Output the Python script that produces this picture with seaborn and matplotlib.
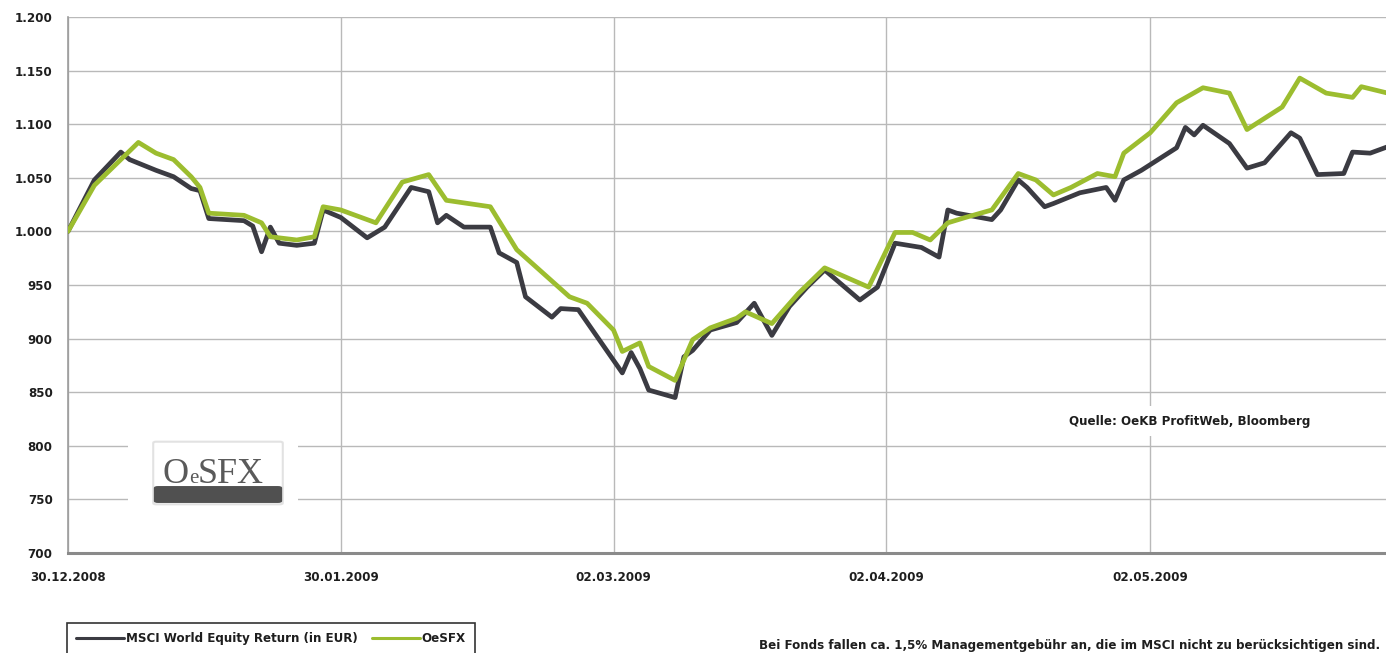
import pandas as pd
import matplotlib
matplotlib.use("Agg")
import matplotlib.pyplot as plt
import matplotlib.dates as mdates
from matplotlib.ticker import FuncFormatter
from matplotlib.patches import Rectangle, FancyBboxPatch
from matplotlib.lines import Line2D
import seaborn as sns


# values
msci_dates = [
    '2008-12-30', '2009-01-02', '2009-01-05', '2009-01-06', '2009-01-09',
    '2009-01-11', '2009-01-13', '2009-01-14', '2009-01-15', '2009-01-19',
    '2009-01-20', '2009-01-21', '2009-01-22', '2009-01-23', '2009-01-25',
    '2009-01-27', '2009-01-28', '2009-01-30', '2009-02-02', '2009-02-04',
    '2009-02-07', '2009-02-09', '2009-02-10', '2009-02-11', '2009-02-13',
    '2009-02-16', '2009-02-17', '2009-02-19', '2009-02-20', '2009-02-23',
    '2009-02-24', '2009-02-26', '2009-03-03', '2009-03-04', '2009-03-05',
    '2009-03-06', '2009-03-09', '2009-03-10', '2009-03-11', '2009-03-13',
    '2009-03-16', '2009-03-18', '2009-03-20', '2009-03-22', '2009-03-24',
    '2009-03-26', '2009-03-30', '2009-04-01', '2009-04-03', '2009-04-06',
    '2009-04-08', '2009-04-09', '2009-04-10', '2009-04-14', '2009-04-15',
    '2009-04-17', '2009-04-18', '2009-04-20', '2009-04-21', '2009-04-24',
    '2009-04-27', '2009-04-28', '2009-04-29', '2009-05-01', '2009-05-05',
    '2009-05-06', '2009-05-07', '2009-05-08', '2009-05-11', '2009-05-13',
    '2009-05-15', '2009-05-18', '2009-05-19', '2009-05-21', '2009-05-24',
    '2009-05-25', '2009-05-27', '2009-05-29',
]
msci_values = [
    1000, 1048, 1074, 1067, 1057,
    1051, 1040, 1038, 1012, 1010,
    1005, 981, 1004, 989, 987,
    989, 1020, 1013, 994, 1004,
    1041, 1037, 1008, 1015, 1004,
    1004, 980, 971, 939, 920,
    928, 927, 868, 887, 872,
    852, 845, 883, 889, 908,
    915, 933, 903, 930, 948,
    964, 936, 948, 989, 985,
    976, 1020, 1017, 1011, 1020,
    1048, 1041, 1023, 1026, 1036,
    1041, 1029, 1048, 1057, 1078,
    1097, 1090, 1099, 1082, 1059,
    1064, 1092, 1087, 1053, 1054,
    1074, 1073, 1079,
]

oesfx_dates = [
    '2008-12-30', '2009-01-02', '2009-01-07', '2009-01-09', '2009-01-11',
    '2009-01-13', '2009-01-14', '2009-01-15', '2009-01-19', '2009-01-21',
    '2009-01-22', '2009-01-25', '2009-01-27', '2009-01-28', '2009-01-30',
    '2009-02-03', '2009-02-06', '2009-02-09', '2009-02-11', '2009-02-16',
    '2009-02-19', '2009-02-25', '2009-02-27', '2009-03-02', '2009-03-03',
    '2009-03-05', '2009-03-06', '2009-03-09', '2009-03-11', '2009-03-13',
    '2009-03-16', '2009-03-17', '2009-03-20', '2009-03-23', '2009-03-26',
    '2009-03-31', '2009-04-03', '2009-04-05', '2009-04-07', '2009-04-09',
    '2009-04-11', '2009-04-14', '2009-04-17', '2009-04-19', '2009-04-21',
    '2009-04-23', '2009-04-26', '2009-04-28', '2009-04-29', '2009-05-02',
    '2009-05-05', '2009-05-08', '2009-05-11', '2009-05-13', '2009-05-17',
    '2009-05-19', '2009-05-22', '2009-05-25', '2009-05-26', '2009-05-29',
]
oesfx_values = [
    1000, 1043, 1083, 1073, 1067,
    1051, 1041, 1017, 1015, 1008,
    995, 992, 995, 1023, 1020,
    1008, 1046, 1053, 1029, 1023,
    983, 939, 933, 908, 888,
    896, 874, 861, 899, 910,
    919, 925, 914, 942, 966,
    948, 999, 999, 992, 1008,
    1013, 1020, 1054, 1048, 1034,
    1041, 1054, 1051, 1073, 1092,
    1120, 1134, 1129, 1095, 1116,
    1143, 1129, 1125, 1135, 1129,
]

series_names = ['MSCI World Equity Return (in EUR)', 'OeSFX']
series_colors = ['#3b3b42', '#9cbd2f']
x_tick_dates = ['2008-12-30', '2009-01-30', '2009-03-02', '2009-04-02', '2009-05-02']
y_ticks = list(range(700, 1201, 50))
source_note = 'Quelle: OeKB ProfitWeb, Bloomberg'
fee_note = ('Bei Fonds fallen ca. 1,5% Managementgebühr an, '
            'die im MSCI nicht zu berücksichtigen sind.')

msci = pd.DataFrame({'date': pd.to_datetime(msci_dates), 'value': msci_values})
oesfx = pd.DataFrame({'date': pd.to_datetime(oesfx_dates), 'value': oesfx_values})

sns.set_theme(style='white')
plt.rcParams['font.family'] = ['DejaVu Sans']
txt = dict(fontsize=8.6, fontweight='bold', color='#1e1e1e')

W, H = 1386, 653
fig = plt.figure(figsize=(W / 100, H / 100), dpi=100)
fig.patch.set_facecolor('white')
ax = fig.add_axes([68 / W, 1 - 553 / H, (1386 - 68) / W, (553 - 17) / H])

sns.lineplot(data=msci, x='date', y='value', ax=ax, color=series_colors[0],
             linewidth=3.4, zorder=3, solid_joinstyle='round')
sns.lineplot(data=oesfx, x='date', y='value', ax=ax, color=series_colors[1],
             linewidth=3.4, zorder=4, solid_joinstyle='round')

start = pd.Timestamp('2008-12-30')
ax.set_xlim(start, start + pd.Timedelta(days=149.8))
ax.set_ylim(700, 1200)
ax.set_xticks(pd.to_datetime(x_tick_dates))
ax.xaxis.set_major_formatter(mdates.DateFormatter('%d.%m.%Y'))
ax.set_yticks(y_ticks)
ax.yaxis.set_major_formatter(
    FuncFormatter(lambda v, _: f'{v:,.0f}'.replace(',', '.')))
ax.set_xlabel('')
ax.set_ylabel('')

ax.grid(True, color='#b9b9b9', linewidth=1.0)
ax.set_axisbelow(True)
for side in ['top', 'right']:
    ax.spines[side].set_visible(False)
ax.spines['left'].set_color('#9c9c9c')
ax.spines['left'].set_linewidth(1.2)
ax.spines['bottom'].set_color('#8a8a8a')
ax.spines['bottom'].set_linewidth(2.2)
ax.tick_params(axis='y', length=4, width=1, color='#9c9c9c', pad=7,
               labelsize=txt['fontsize'], labelcolor=txt['color'])
ax.tick_params(axis='x', length=5, width=1, color='#9c9c9c', pad=8,
               labelsize=txt['fontsize'], labelcolor=txt['color'])
for lab in ax.get_xticklabels() + ax.get_yticklabels():
    lab.set_fontweight('bold')

# source note with white background breaking the grid
ax.text(1190 / W, 1 - 421 / H, source_note, transform=fig.transFigure,
        ha='center', va='center', zorder=5,
        bbox=dict(facecolor='white', edgecolor='none', pad=6), **txt)

# logo
fig.patches.append(Rectangle((128 / W, 1 - 512 / H), 170 / W, 74 / H,
                             transform=fig.transFigure, facecolor='white',
                             edgecolor='none', zorder=2))
fig.patches.append(FancyBboxPatch((156 / W, 1 - 503 / H), 124 / W, 60 / H,
                                  boxstyle='round,pad=0.002',
                                  transform=fig.transFigure,
                                  facecolor='white', edgecolor='#e2e2e2',
                                  linewidth=1.5, zorder=2))
fig.patches.append(FancyBboxPatch((158 / W, 1 - 501 / H), 120 / W, 13 / H,
                                  boxstyle='round,pad=0.003',
                                  transform=fig.transFigure,
                                  facecolor='#505050', edgecolor='none',
                                  zorder=3))
logo = dict(family='Liberation Serif', color='#5a5a5a', zorder=4)
fig.text(162 / W, 1 - 483 / H, 'O', fontsize=26, **logo)
fig.text(189 / W, 1 - 483 / H, 'e', fontsize=15, **logo)
fig.text(198 / W, 1 - 483 / H, 'SFX', fontsize=26, **logo)

# legend
handles = [Line2D([], [], color=c, linewidth=2.2) for c in series_colors]
leg = fig.legend(handles, series_names, loc='upper left',
                 bbox_to_anchor=(67 / W, 1 - 623 / H), ncol=2,
                 frameon=True, fancybox=False, handlelength=4.0,
                 handletextpad=0.15, columnspacing=1.25, borderpad=0.75,
                 borderaxespad=0,
                 prop=dict(size=txt['fontsize'], weight='bold'))
leg.get_frame().set_edgecolor('black')
leg.get_frame().set_linewidth(1.2)
for t in leg.get_texts():
    t.set_color(txt['color'])

fig.text(1380 / W, 1 - 646 / H, fee_note, ha='right', va='center', **txt)

fig.savefig('out.png', dpi=100)
